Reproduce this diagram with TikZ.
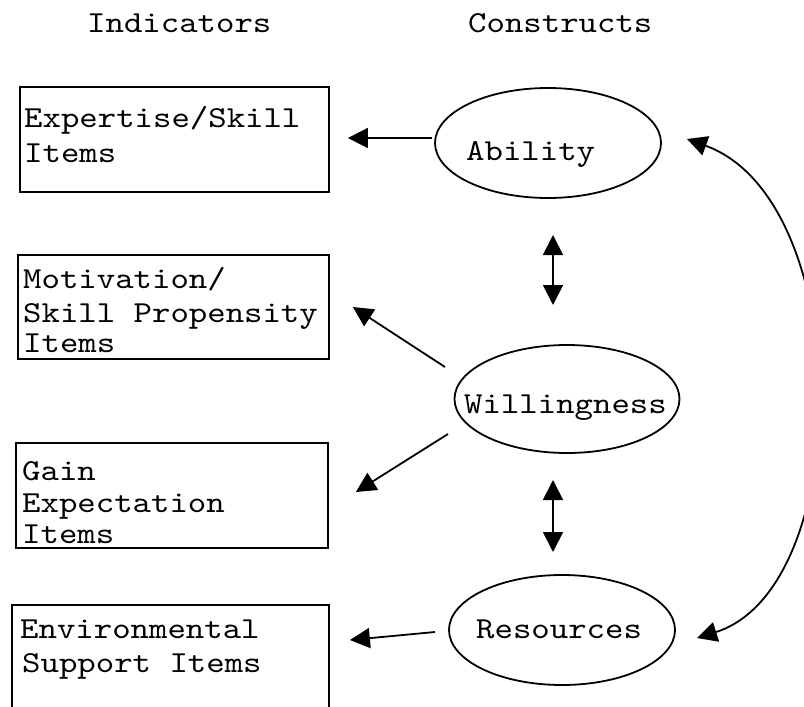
\documentclass[tikz,border=0pt]{standalone}
\usepackage{fontspec}
\setmonofont[FakeStretch=1.15]{lmmono10-regular.otf}
\usetikzlibrary{arrows.meta,shapes.geometric,calc}
\tikzset{
  box/.style={draw, line width=1.8pt, rectangle, inner sep=0pt},
  ell/.style={draw, ellipse, line width=1.8pt, inner sep=0pt},
  txt/.style={anchor=base west, inner sep=0pt, font=\ttfamily\fontsize{30.5}{34}\selectfont},
  arr/.style={line width=1.8pt, -{Triangle[length=20pt,width=20pt]}},
  darr/.style={line width=1.8pt, {Triangle[length=20pt,width=20pt]}-{Triangle[length=20pt,width=20pt]}},
}
\begin{document}
\begin{tikzpicture}[x=1pt,y=-1pt]
\useasboundingbox (0,0) rectangle (804,707);
\clip (0,0) rectangle (804,707);
% titles
\node[txt] (indic) at (87,32) {Indicators};
\node[txt] (constr) at (468,32) {Constructs};
% indicator boxes
\node[box, minimum width=309pt, minimum height=105pt] (exp) at (174.5,139.5) {};
\node[box, minimum width=311pt, minimum height=104pt] (mot) at (173.5,307) {};
\node[box, minimum width=312pt, minimum height=105pt] (gain) at (172,495.5) {};
\node[box, minimum width=317pt, minimum height=120pt] (env) at (170.5,665) {};
% box texts
\node[txt] (e1) at (24,127) {Expertise/Skill};
\node[txt] (e2) at (24,162) {Items};
\node[txt] (m1) at (23,288) {Motivation/};
\node[txt] (m2) at (23,322) {Skill Propensity};
\node[txt] (m3) at (23,352) {Items};
\node[txt] (g1) at (22,480) {Gain};
\node[txt] (g2) at (22,512) {Expectation};
\node[txt] (g3) at (22,543) {Items};
\node[txt] (v1) at (20,638) {Environmental};
\node[txt] (v2) at (22,672) {Support Items};
% constructs
\node[ell, minimum width=226pt, minimum height=110pt] (abil) at (548,143) {};
\node[ell, minimum width=225pt, minimum height=108pt] (will) at (567,399) {};
\node[ell, minimum width=226pt, minimum height=110pt] (res) at (562,630) {};
\node[txt] (abilt) at (466,160) {Ability};
\node[txt] (willt) at (464,413) {Willingness};
\node[txt] (rest) at (476,638) {Resources};
% connectors
\draw[arr] ($(abil.center)+(-116,-5)$) -- ($(exp.east)+(18,-1.5)$);
\draw[arr] ($(will.center)+(-122,-32)$) -- ($(mot.east)+(23,0)$);
\draw[arr] ($(will.center)+(-119,35)$) -- ($(gain.east)+(27,-3.5)$);
\draw[arr] ($(res.center)+(-127,2)$) -- ($(env.east)+(20,-25)$);
\draw[darr] ($(abil.center)+(5,92)$) -- ($(will.center)+(-14,-94)$);
\draw[darr] ($(will.center)+(-14,81)$) -- ($(res.center)+(-9,-78)$);
\draw[darr] ($(abil.center)+(139,-4)$) .. controls ($(abil.center)+(308,57)$) and ($(res.center)+(294,-42)$) .. ($(res.center)+(135,8)$);
\end{tikzpicture}
\end{document}
